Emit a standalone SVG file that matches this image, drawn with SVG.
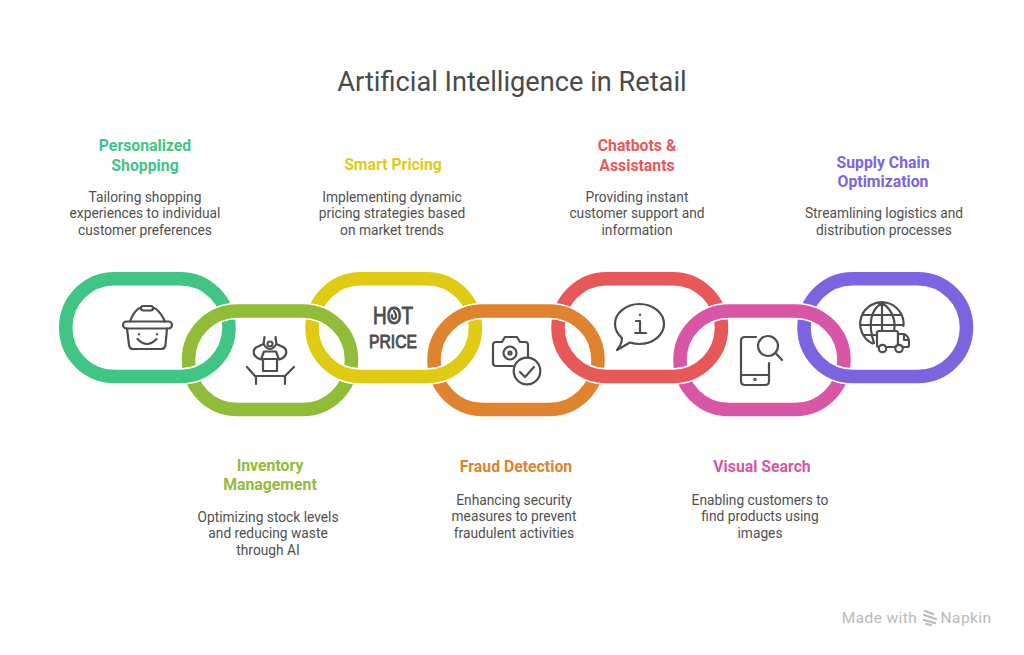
<svg xmlns="http://www.w3.org/2000/svg" width="1024" height="655" viewBox="0 0 1024 655">
<defs>
<style>
text{font-family:Roboto,"Liberation Sans",sans-serif;text-anchor:middle}
.t{font-size:27.2px;fill:#4a4a4a}
.h{font-size:15.8px;font-weight:700}
.d{font-size:13.75px;fill:#4f4f4f}
.halo{fill:none;stroke:#fff;stroke-width:16.5}
.r{fill:none;stroke-width:13.5}
.i{fill:none;stroke:#4d4d4d;stroke-width:2.2;stroke-linecap:round;stroke-linejoin:round}
.w{fill:#fff}
.hp{font-family:"Liberation Sans",sans-serif;fill:#4d4d4d;stroke:#4d4d4d;stroke-width:.9}
.wm{font-size:15.5px;fill:#b9b9b9;letter-spacing:.4px}
</style>
<rect id="r1" x="65.7" y="278.7" width="163.3" height="97.8" rx="48.9"/>
<rect id="r2" x="188.5" y="311" width="163" height="98.5" rx="49"/>
<rect id="r3" x="312" y="278.7" width="163.5" height="97.8" rx="48.9"/>
<rect id="r4" x="434" y="311" width="164" height="98.5" rx="49"/>
<rect id="r5" x="558" y="278.7" width="163.5" height="97.8" rx="48.9"/>
<rect id="r6" x="680" y="311" width="164" height="98.5" rx="49"/>
<rect id="r7" x="804" y="278.7" width="162.5" height="97.8" rx="48.9"/>
<clipPath id="low"><rect x="0" y="345" width="1024" height="100"/></clipPath>
</defs>
<rect width="1024" height="655" fill="#fff"/>
<text class="t" x="512" y="90.500">Artificial Intelligence in Retail</text>
<g id="connectors">
<use href="#r1" class="r" stroke="#41c587"/>
<use href="#r3" class="r" stroke="#e0cb14"/>
<use href="#r5" class="r" stroke="#e75858"/>
<use href="#r7" class="r" stroke="#7c64e0"/>
<use href="#r2" class="halo"/><use href="#r2" class="r" stroke="#90bc38"/>
<use href="#r4" class="halo"/><use href="#r4" class="r" stroke="#e0832e"/>
<use href="#r6" class="halo"/><use href="#r6" class="r" stroke="#d955a5"/>
<g clip-path="url(#low)">
<use href="#r1" class="halo"/><use href="#r1" class="r" stroke="#41c587"/>
<use href="#r3" class="halo"/><use href="#r3" class="r" stroke="#e0cb14"/>
<use href="#r5" class="halo"/><use href="#r5" class="r" stroke="#e75858"/>
<use href="#r7" class="halo"/><use href="#r7" class="r" stroke="#7c64e0"/>
</g>
</g>
<g id="n1"><text class="h" fill="#41c587" x="145" y="151">Personalized</text><text class="h" fill="#41c587" x="145" y="170.500">Shopping</text>
<text class="d" x="145" y="201.500">Tailoring shopping</text><text class="d" x="145" y="218">experiences to individual</text><text class="d" x="145" y="234.500">customer preferences</text>
<g class="i"><rect x="141" y="306" width="12" height="4.500" rx="2.200"/><path d="M130 321.500Q133 313 138 309Q139 308 141 308M153 308Q155 308 156 309Q161 313 165 321.500"/><rect x="123" y="321.500" width="49" height="7" rx="3.500"/><path d="M127 328.500L129 345Q129.500 349 133 349H161Q165 349 165.500 345L167 328.500"/><path d="M139 334V334.500M157 334V334.500"/><path d="M137.500 339Q147 349 156.500 339"/></g></g>
<g id="n2"><text class="h" fill="#90bc38" x="270" y="470.500">Inventory</text><text class="h" fill="#90bc38" x="270" y="489.500">Management</text>
<text class="d" x="268" y="521.500">Optimizing stock levels</text><text class="d" x="268" y="538">and reducing waste</text><text class="d" x="268" y="554.500">through AI</text>
<g class="i"><path d="M247 367L255 376H285L294 367M256 376V384M285 376V384"/><rect x="263" y="359" width="14" height="12"/><circle cx="270" cy="344" r="2.500"/><path d="M264.500 337L263.500 344L256 347.500Q253 349.500 254 354Q255.500 358 261 359.500L264 351.500H276L279 359.500Q284.500 358 286 354Q287 349.500 284 347.500L276.500 344L275.500 337"/><path d="M263.500 344Q270 354 276.500 344"/></g></g>
<g id="n3"><text class="h" fill="#e0cb14" x="393" y="169.500">Smart Pricing</text>
<text class="d" x="392" y="201.500">Implementing dynamic</text><text class="d" x="392" y="218">pricing strategies based</text><text class="d" x="392" y="234.500">on market trends</text>
<text class="hp" x="393" y="324" font-size="23" textLength="40" lengthAdjust="spacingAndGlyphs">HOT</text>
<path class="i" stroke-width="1.500" d="M394 311Q396 314 396 316Q396 319 393.500 319Q391.500 318.500 392 315"/>
<text class="hp" x="393" y="348" font-size="18" textLength="48" lengthAdjust="spacingAndGlyphs">PRICE</text></g>
<g id="n4"><text class="h" fill="#e0832e" x="516" y="471.500">Fraud Detection</text>
<text class="d" x="514" y="504.500">Enhancing security</text><text class="d" x="514" y="521">measures to prevent</text><text class="d" x="514" y="537.500">fraudulent activities</text>
<g class="i"><path d="M513 366H496Q493 366 493 363V345Q493 342 496 342H502L505 337H517L520 342H525Q528 342 528 345V357"/><circle cx="510" cy="353" r="6.500"/><circle cx="510" cy="353" r="1.500"/><circle cx="527" cy="371" r="13.300"/><path d="M520 372L525 377L534 367"/></g></g>
<g id="n5"><text class="h" fill="#e75858" x="637" y="151">Chatbots &amp;</text><text class="h" fill="#e75858" x="637" y="170.500">Assistants</text>
<text class="d" x="637" y="201.500">Providing instant</text><text class="d" x="637" y="218">customer support and</text><text class="d" x="637" y="234.500">information</text>
<g class="i"><path d="M622 338Q615 332 615 324C615 313 626 304 639.500 304C653 304 664 313 664 324C664 335 653 344 639.500 344Q635 344 630 342.500L617 350Q622 344 622 338Z"/><path d="M640 314.500V315M636 321H640V333M635 333H646"/></g></g>
<g id="n6"><text class="h" fill="#d955a5" x="762" y="471.500">Visual Search</text>
<text class="d" x="760" y="504.500">Enabling customers to</text><text class="d" x="760" y="521">find products using</text><text class="d" x="760" y="537.500">images</text>
<g class="i"><path d="M756 337H745Q741 337 741 341V381Q741 385 745 385H765Q769 385 769 381V363M741 375H769"/><circle cx="755" cy="379.500" r=".7"/><circle cx="768" cy="346" r="10"/><path d="M775.500 353L782 360"/></g></g>
<g id="n7"><text class="h" fill="#7c64e0" x="883" y="167.500">Supply Chain</text><text class="h" fill="#7c64e0" x="883" y="186.500">Optimization</text>
<text class="d" x="884" y="217.500">Streamlining logistics and</text><text class="d" x="884" y="234.500">distribution processes</text>
<g class="i"><path d="M872.500 343.500A21.700 21.700 0 1 1 903.500 326M882 303V331M882 303C870 310 868 325 874 343M882 303C893 310 896 322 894 331M863 315H901M860.500 325H903M864 335H877"/><path class="w" d="M879 347Q877 347 877 345V333Q877 331 879 331H896Q898 331 898 333V347Z"/><path class="w" d="M898 334H904Q909 336 909 342V345Q909 347 907 347H898Z"/><circle class="w" cx="882.500" cy="348.500" r="3.700"/><circle class="w" cx="899" cy="348.500" r="3.700"/><path d="M904 335V340H908"/></g></g>
<g id="wm"><text class="wm" x="879.500" y="623">Made with</text><text class="wm" x="966" y="623">Napkin</text>
<path d="M925 611L933 614M924 615L936 619M924 620L935 623M926 624L931 625" fill="none" stroke="#b9b9b9" stroke-width="2.200" stroke-linecap="round"/></g>
</svg>
